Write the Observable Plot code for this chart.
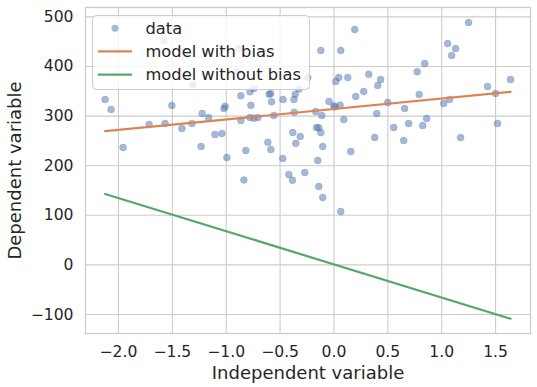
<!DOCTYPE html>
<html>
<head>
<meta charset="utf-8">
<script src="https://cdn.jsdelivr.net/npm/d3@7"></script>
<script src="https://cdn.jsdelivr.net/npm/@observablehq/plot@0.6"></script>
<style>
  html, body { margin: 0; padding: 0; background: #ffffff; }
  #wrap { position: relative; width: 537px; height: 387px; font-family: "DejaVu Sans", sans-serif; }
  #legend { position: absolute; left: 92px; top: 15px; }
</style>
</head>
<body>
<div id="wrap"></div>
<script>
// ---- data ----
const dataX = [-2.124,-2.069,-1.957,-1.716,-1.577,-1.568,-1.505,-1.411,-1.318,-1.307,
  -1.233,-1.223,-1.163,-1.105,-1.040,-1.021,-1.010,-0.994,-0.894,-0.882,
  -0.864,-0.864,-0.836,-0.818,-0.780,-0.780,-0.771,-0.743,-0.743,-0.706,
  -0.614,-0.602,-0.587,-0.586,-0.579,-0.558,-0.473,-0.475,-0.419,-0.385,
  -0.382,-0.371,-0.369,-0.359,-0.354,-0.324,-0.313,-0.271,-0.243,-0.170,
  -0.162,-0.141,-0.150,-0.141,-0.122,-0.122,-0.113,-0.104,-0.104,-0.046,
  -0.002,0.011,0.017,0.044,0.057,0.063,0.063,0.091,0.128,0.156,
  0.193,0.202,0.276,0.323,0.378,0.397,0.406,0.433,0.499,0.554,
  0.647,0.656,0.693,0.772,0.791,0.823,0.842,0.860,1.018,1.055,
  1.073,1.092,1.129,1.175,1.249,1.425,1.500,1.518,1.639];
const dataY = [333.5,313.3,236.7,283.1,452.0,285.3,321.4,275.0,285.1,363.7,
  238.9,305.2,297.2,263.1,265.1,315.3,319.6,216.5,389.1,436.3,
  341.1,291.1,171.2,230.8,349.2,297.2,321.6,355.6,295.8,297.2,
  247.0,344.0,345.6,232.7,329.0,301.4,333.5,214.7,182.3,170.8,
  266.9,333.5,307.9,343.8,245.0,354.6,258.9,186.3,377.8,309.3,
  277.0,276.6,210.7,158.1,432.3,266.9,301.4,238.7,135.9,329.4,
  320.4,318.5,369.8,377.8,322.0,432.3,107.7,293.1,377.8,228.6,
  474.6,339.7,349.6,384.1,256.9,305.2,361.7,373.8,327.4,277.0,
  250.8,315.3,285.1,389.5,343.5,281.0,406.0,295.2,325.4,446.4,
  333.5,422.2,436.3,256.9,488.7,359.7,345.6,285.1,373.8];
const lineX = [-2.124, 1.639];
const withBiasY = [269.5, 348.8];
const withoutBiasY = [143.0, -108.5];
const xTicks = [-2.0, -1.5, -1.0, -0.5, 0.0, 0.5, 1.0, 1.5];
const yTicks = [-100, 0, 100, 200, 300, 400, 500];
const seriesNames = ["data", "model with bias", "model without bias"];
const colors = { data: "#4c72b0", bias: "#dd8452", nobias: "#55a868" };
const labels = { x: "Independent variable", y: "Dependent variable" };

const points = dataX.map((x, i) => ({ x, y: dataY[i] }));
const biasLine = lineX.map((x, i) => ({ x, y: withBiasY[i] }));
const noBiasLine = lineX.map((x, i) => ({ x, y: withoutBiasY[i] }));

const grid = "#cccccc";
const ink = "#262626";

const chart = Plot.plot({
  width: 537,
  height: 387,
  marginLeft: 85,
  marginRight: 7,
  marginTop: 7,
  marginBottom: 54,
  x: { domain: [-2.306, 1.824] },
  y: { domain: [-138.3, 518.9] },
  style: { fontFamily: "DejaVu Sans", fontSize: "15.6px", color: ink, background: "#ffffff", overflow: "visible" },
  marks: [
    Plot.gridX(xTicks, { stroke: grid, strokeOpacity: 1, strokeWidth: 1.1 }),
    Plot.gridY(yTicks, { stroke: grid, strokeOpacity: 1, strokeWidth: 1.1 }),
    Plot.frame({ stroke: grid, strokeWidth: 1.3 }),
    Plot.axisX(xTicks, { tickSize: 0, tickPadding: 12.5, tickFormat: d3.format(".1f"), label: null, fontSize: 15.6, fill: ink }),
    Plot.axisY(yTicks, { tickSize: 0, tickPadding: 12, tickFormat: d3.format("d"), label: null, fontSize: 15.6, fill: ink }),
    Plot.text([labels.x], { frameAnchor: "bottom", dy: 39.5, lineAnchor: "middle", textAnchor: "middle", fontSize: 18, fill: ink }),
    Plot.text([labels.y], { frameAnchor: "left", dx: -70, rotate: -90, lineAnchor: "middle", textAnchor: "middle", fontSize: 18, fill: ink }),
    Plot.dot(points, { x: "x", y: "y", r: 3.5, fill: colors.data, fillOpacity: 0.5, stroke: colors.data, strokeOpacity: 0.25, strokeWidth: 0.8 }),
    Plot.line(biasLine, { x: "x", y: "y", stroke: colors.bias, strokeWidth: 2.2 }),
    Plot.line(noBiasLine, { x: "x", y: "y", stroke: colors.nobias, strokeWidth: 2.2 })
  ]
});
document.getElementById("wrap").appendChild(chart);

// legend (overlaid inside the axes, upper left)
const lg = d3.select("#wrap").append("svg")
  .attr("id", "legend").attr("width", 219).attr("height", 76);
lg.append("rect").attr("x", 0.5).attr("y", 0.5).attr("width", 217).attr("height", 74)
  .attr("rx", 4).attr("fill", "#ffffff").attr("fill-opacity", 0.8)
  .attr("stroke", "#cccccc").attr("stroke-width", 1);
const rowsY = [13.3, 36.3, 59.6];
lg.append("circle").attr("cx", 23).attr("cy", rowsY[0]).attr("r", 3.5)
  .attr("fill", colors.data).attr("fill-opacity", 0.5);
lg.append("line").attr("x1", 6).attr("x2", 40).attr("y1", rowsY[1]).attr("y2", rowsY[1])
  .attr("stroke", colors.bias).attr("stroke-width", 2.2);
lg.append("line").attr("x1", 6).attr("x2", 40).attr("y1", rowsY[2]).attr("y2", rowsY[2])
  .attr("stroke", colors.nobias).attr("stroke-width", 2.2);
seriesNames.forEach((s, i) => {
  lg.append("text").attr("x", 53.5).attr("y", rowsY[i]).attr("dy", "0.36em")
    .attr("font-family", "DejaVu Sans").attr("font-size", 16.3).attr("fill", ink).text(s);
});
</script>
</body>
</html>
